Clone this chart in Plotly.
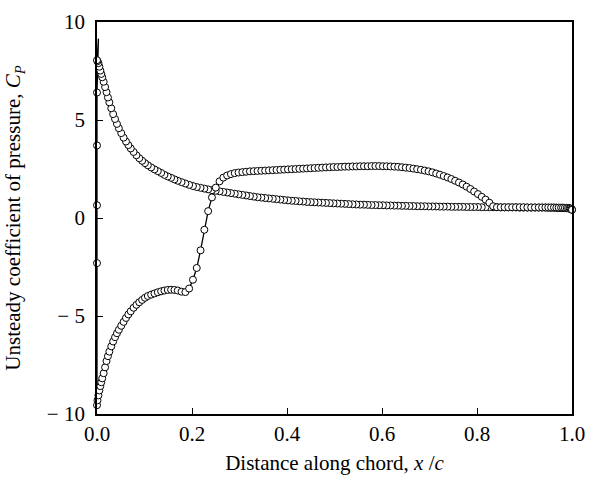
import plotly.graph_objects as go

# Chord stations (x/c), shared by both surfaces
le_stations = [0.000, 0.001, 0.003, 0.005, 0.007, 0.009, 0.011, 0.014, 0.017, 0.020,
               0.023, 0.026, 0.030, 0.034, 0.038, 0.042, 0.046, 0.051, 0.056, 0.061,
               0.066, 0.071, 0.077, 0.083, 0.089, 0.095, 0.101, 0.107, 0.114, 0.121,
               0.128, 0.135, 0.142, 0.149, 0.156, 0.163, 0.170, 0.178, 0.186, 0.194,
               0.202]
mid_stations = [0.210, 0.218, 0.226, 0.234, 0.242, 0.250, 0.258, 0.266, 0.274, 0.282,
                0.290, 0.298, 0.306, 0.314, 0.322, 0.330, 0.338, 0.346, 0.354, 0.362,
                0.370, 0.378, 0.386, 0.394, 0.402, 0.410, 0.418, 0.426, 0.434, 0.442,
                0.450, 0.458, 0.466, 0.474, 0.482, 0.490, 0.498, 0.506, 0.514, 0.522,
                0.530, 0.538, 0.546, 0.554, 0.562, 0.570, 0.578, 0.586, 0.594, 0.602,
                0.610, 0.618, 0.626, 0.634, 0.642, 0.650, 0.658, 0.666, 0.674, 0.682,
                0.690, 0.698, 0.706, 0.714, 0.722, 0.730, 0.738, 0.746, 0.754, 0.762,
                0.770, 0.778, 0.786, 0.794, 0.802, 0.810, 0.818, 0.826, 0.834, 0.842,
                0.850, 0.858, 0.866, 0.874, 0.882, 0.890, 0.898, 0.906, 0.914, 0.922,
                0.930]
te_stations = [0.937, 0.944, 0.950, 0.956, 0.962, 0.967, 0.972, 0.977, 0.981, 0.985,
               0.989, 0.992, 0.995, 0.997, 0.999, 1.000]

# Surface A: Cp decaying from the stagnation peak
cp_a_le = [8.05, 8.0, 7.9, 7.72, 7.52, 7.35, 7.18, 6.95, 6.68, 6.42,
           6.15, 5.9, 5.6, 5.3, 5.05, 4.8, 4.58, 4.33, 4.1, 3.9,
           3.72, 3.55, 3.37, 3.2, 3.05, 2.92, 2.8, 2.69, 2.58, 2.48,
           2.39, 2.3, 2.2, 2.12, 2.05, 1.97, 1.9, 1.83, 1.76, 1.69,
           1.63]
cp_a_mid = [1.58, 1.54, 1.5, 1.46, 1.42, 1.39, 1.36, 1.33, 1.3, 1.27,
            1.24, 1.21, 1.18, 1.15, 1.12, 1.09, 1.06, 1.04, 1.02, 1.0,
            0.98, 0.96, 0.94, 0.92, 0.9, 0.88, 0.87, 0.85, 0.84, 0.82,
            0.81, 0.8, 0.79, 0.78, 0.77, 0.76, 0.75, 0.74, 0.73, 0.72,
            0.71, 0.7, 0.69, 0.68, 0.68, 0.67, 0.66, 0.66, 0.65, 0.65,
            0.64, 0.64, 0.63, 0.63, 0.62, 0.62, 0.61, 0.61, 0.6, 0.6,
            0.6, 0.59, 0.59, 0.59, 0.58, 0.58, 0.58, 0.57, 0.57, 0.57,
            0.57, 0.56, 0.56, 0.56, 0.56, 0.55, 0.55, 0.55, 0.55, 0.55,
            0.54, 0.54, 0.54, 0.54, 0.54, 0.53, 0.53, 0.53, 0.53, 0.53,
            0.53]
cp_a_te = [0.53, 0.53, 0.52, 0.52, 0.52, 0.52, 0.51, 0.51, 0.51, 0.5,
           0.5, 0.49, 0.48, 0.47, 0.45, 0.42]

# Surface B: Cp from the suction peak, plateau, jump and hump
cp_b_le = [-9.55, -9.3, -9.05, -8.8, -8.58, -8.38, -8.18, -7.92, -7.62, -7.3,
           -7.05, -6.82, -6.55, -6.3, -6.08, -5.88, -5.7, -5.5, -5.3, -5.1,
           -4.92, -4.76, -4.58, -4.43, -4.3, -4.18, -4.07, -3.98, -3.91, -3.85,
           -3.79, -3.74, -3.7, -3.67, -3.66, -3.67, -3.7, -3.76, -3.78, -3.6,
           -3.15]
cp_b_mid = [-2.55, -1.65, -0.6, 0.35, 1.05, 1.55, 1.87, 2.06, 2.17, 2.24,
            2.29, 2.32, 2.34, 2.36, 2.38, 2.39, 2.4, 2.41, 2.42, 2.43,
            2.44, 2.45, 2.46, 2.47, 2.48, 2.49, 2.5, 2.51, 2.52, 2.53,
            2.54, 2.55, 2.56, 2.57, 2.58, 2.59, 2.6, 2.6, 2.61, 2.62,
            2.62, 2.63, 2.63, 2.64, 2.64, 2.64, 2.65, 2.65, 2.65, 2.64,
            2.64, 2.63, 2.62, 2.61, 2.59, 2.57, 2.55, 2.52, 2.49, 2.46,
            2.42, 2.38, 2.33, 2.27, 2.21, 2.14, 2.07, 1.99, 1.9, 1.81,
            1.71, 1.6, 1.48, 1.35, 1.22, 1.08, 0.94, 0.78, 0.6, 0.55,
            0.55, 0.55, 0.55, 0.55, 0.55, 0.55, 0.55, 0.54, 0.54, 0.54,
            0.54]
cp_b_te = [0.54, 0.54, 0.54, 0.54, 0.54, 0.53, 0.53, 0.53, 0.53, 0.52,
           0.52, 0.51, 0.5, 0.48, 0.45, 0.42]

# Leading-edge points on the x = 0 line and the peak of the trace
le_line_x = [0.0, 0.0, 0.0, 0.0]
le_line_cp = [6.4, 3.7, 0.65, -2.3]
spike_x = [0.003]
spike_cp = [9.15]

x_ticks = [0.0, 0.2, 0.4, 0.6, 0.8, 1.0]
x_tick_text = ["0.0", "0.2", "0.4", "0.6", "0.8", "1.0"]
y_ticks = [-10, -5, 0, 5, 10]
y_tick_text = ["\u2212 10", "\u2212 5", "0", "5", "10"]

stations = le_stations + mid_stations + te_stations
cp_a = cp_a_le + cp_a_mid + cp_a_te
cp_b = cp_b_le + cp_b_mid + cp_b_te

a_x = stations[::-1]
a_y = cp_a[::-1]

line_x = a_x + spike_x + le_line_x + stations
line_y = a_y + spike_cp + le_line_cp + cp_b
mark_x = a_x + le_line_x + stations
mark_y = a_y + le_line_cp + cp_b

fig = go.Figure()
fig.add_trace(go.Scatter(x=line_x, y=line_y, mode="lines",
                         line=dict(color="black", width=1.3),
                         cliponaxis=False, showlegend=False, hoverinfo="skip"))
fig.add_trace(go.Scatter(x=mark_x, y=mark_y, mode="markers",
                         marker=dict(symbol="circle", size=7, color="white",
                                     line=dict(color="black", width=1)),
                         cliponaxis=False, showlegend=False))

font = dict(family="Liberation Serif, Times New Roman, serif", size=21, color="black")

fig.update_layout(
    width=595, height=485,
    margin=dict(l=97, r=15, t=10, b=71),
    paper_bgcolor="white", plot_bgcolor="white",
    font=font,
    showlegend=False,
)
fig.update_xaxes(
    range=[0, 1], tickvals=x_ticks, ticktext=x_tick_text,
    showline=True, linecolor="black", linewidth=1.8, mirror=True,
    ticks="inside", ticklen=6, tickwidth=1, tickcolor="black",
    showgrid=False, zeroline=False,
    title=dict(text="Distance along chord, <i>x </i>/<i>c</i>", font=font, standoff=10),
)
fig.update_yaxes(
    range=[-10, 10], tickvals=y_ticks, ticktext=y_tick_text,
    showline=True, linecolor="black", linewidth=1.8, mirror=True,
    ticks="inside", ticklen=6, tickwidth=1, tickcolor="black",
    ticklabelstandoff=6,
    showgrid=False, zeroline=False,
    title=dict(text="Unsteady coefficient of pressure, <i>C<sub>P</sub></i>", font=font, standoff=20),
)

fig.write_html("out.html")
